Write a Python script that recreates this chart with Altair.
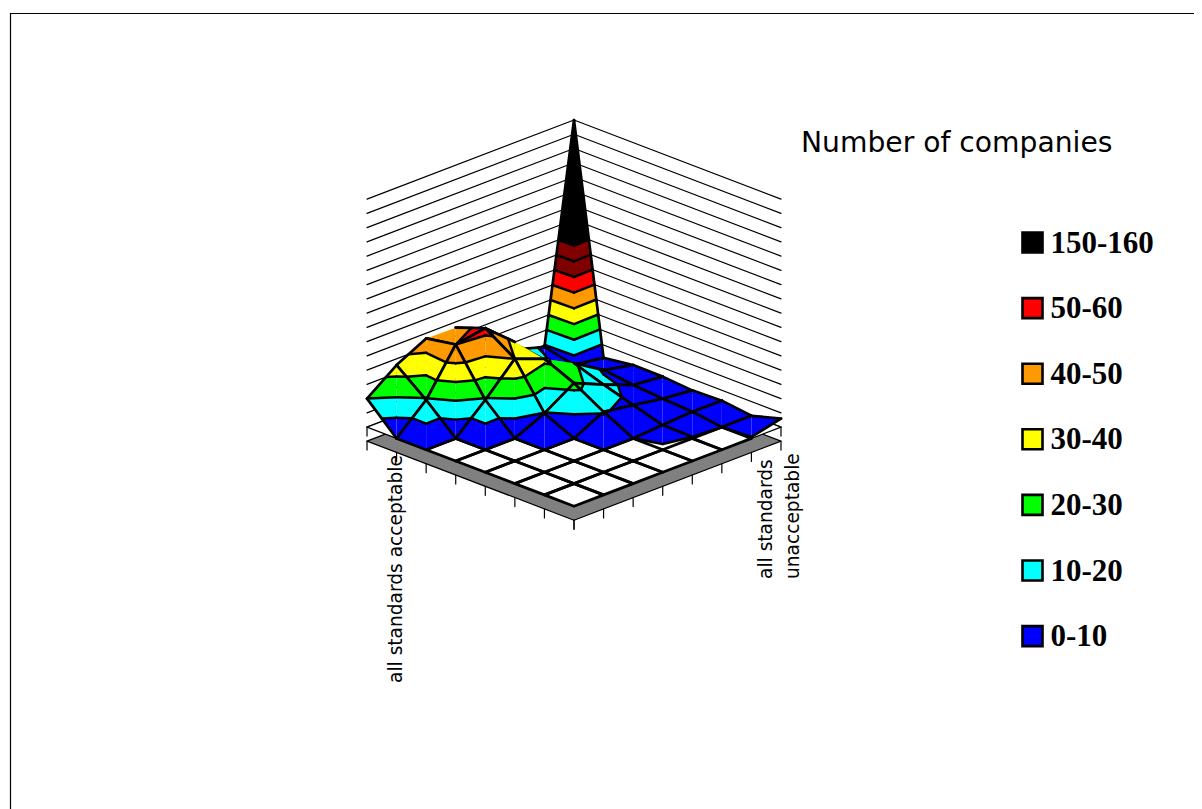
import altair as alt
import pandas as pd

# Surface heights (number of companies); row index runs from the back corner to the left corner,
# column index from the back corner to the right corner. None = no surface cell drawn.
Z0 = [160, 1, 3.9, 3.7, 2, 2.7, 0, 6]
Z1 = [8.6, 4, 8.3, 5.7, 4, 2.8, 0, 1]
Z2 = [15, 12, 21, 14, 7.5, 1.4, 1, None]
Z3 = [30, 36, 32, 22.9, 10.7, 0, 4, None]
Z4 = [46, 53.5, 40, 9.6, 0, 0, None, None]
Z5 = [46.4, 50, 19, 0, 0, None, None, None]
Z6 = [35.6, 19, 0, 0, None, None, None, None]
Z7 = [20, 0, 0, None, None, None, None, None]
Z = [Z0, Z1, Z2, Z3, Z4, Z5, Z6, Z7]

BAND_EDGES = [0, 10, 20, 30, 40, 50, 60, 70, 80, 170]
BAND_COLORS = ["#0000ff", "#00ffff", "#00ff00", "#ffff00", "#ff9900", "#ff0000",
               "#800000", "#800000", "#000000"]
WALL_LEVELS = [0, 10, 20, 30, 40, 50, 60, 70, 80, 90, 100, 110, 120, 130, 140, 150, 160]

LEGEND_LABELS = ["150-160", "50-60", "40-50", "30-40", "20-30", "10-20", "0-10"]
LEGEND_COLORS = ["#000000", "#ff0000", "#ff9900", "#ffff00", "#00ff00", "#00ffff", "#0000ff"]

# Mesh edges that the original leaves unstroked along the back of the hump
UNSTROKED = {((3, 1), (3, 2)), ((2, 1), (3, 1)), ((3, 0), (3, 1)), ((3, 0), (4, 0)),
             ((4, 0), (5, 0)), ((2, 1), (2, 2)), ((2, 2), (3, 2)), ((2, 0), (3, 0)), ((2, 0), (2, 1))}

# Oblique view of the (row, column, height) box, in page pixels
CX, CY, DX, DY, DZ = 574.0, 348.0, 29.57, 11.3, 1.425
PLATE_DROP = 14
TICK = 9


def proj(i, j, z=0.0):
    return (CX + (j - i) * DX, CY + (i + j) * DY - z * DZ)


rows = []
sid = [0]


def add(pts, fill="transparent", stroke="transparent", w=0):
    sid[0] += 1
    name = f"s{sid[0]:05d}"
    for k, (x, y) in enumerate(pts):
        rows.append(dict(id=name, seq=k, x=x, y=y, fill=fill, stroke=stroke, w=w))


def clip(poly, level, keep_above):
    out = []
    n = len(poly)
    for a in range(n):
        p, q = poly[a], poly[(a + 1) % n]
        pin = p[2] >= level if keep_above else p[2] <= level
        qin = q[2] >= level if keep_above else q[2] <= level
        if pin:
            out.append(p)
        if pin != qin:
            t = (level - p[2]) / (q[2] - p[2])
            out.append(tuple(p[m] + t * (q[m] - p[m]) for m in range(3)))
    return out


def contour(tri, level):
    pts = []
    for a in range(3):
        p, q = tri[a], tri[(a + 1) % 3]
        if (p[2] - level) * (q[2] - level) < 0:
            t = (level - p[2]) / (q[2] - p[2])
            pts.append(tuple(p[m] + t * (q[m] - p[m]) for m in range(3)))
    return pts[:2] if len(pts) >= 2 else None


# Walls
for lv in WALL_LEVELS:
    add([proj(7, 0, lv), proj(0, 0, lv), proj(0, 7, lv)], stroke="#000000", w=1.2)

# Grey floor plate, seen under the white plane
plate = [proj(7, 0), proj(7, 7), proj(0, 7), proj(0, 0)]
plate = [(x, y + PLATE_DROP) for x, y in plate]
add(plate + plate[:1], fill="#808080", stroke="#000000", w=1.2)
for k in range(8):
    for (x, y) in (proj(7, k), proj(k, 7)):
        add([(x, y + PLATE_DROP), (x, y + PLATE_DROP + TICK)], stroke="#000000", w=1.2)
for (x, y) in (proj(7, 0), proj(0, 7)):
    add([(x, y), (x, y + TICK)], stroke="#000000", w=1.2)
top = [proj(7, 0), proj(7, 7), proj(0, 7), proj(0, 0)]
add(top + top[:1], fill="#ffffff", stroke="#000000", w=1.2)

# White cells where there is no surface
for i in range(7):
    for j in range(7):
        if None in (Z[i][j], Z[i][j + 1], Z[i + 1][j], Z[i + 1][j + 1]):
            c = [proj(i, j), proj(i, j + 1), proj(i + 1, j + 1), proj(i + 1, j), proj(i, j)]
            add(c, stroke="#000000", w=2.8)

# Surface, back to front; each cell is split along its back-front diagonal
order = sorted(((i, j) for i in range(7) for j in range(7)), key=lambda c: c[0] + c[1])
for i, j in order:
    if None in (Z[i][j], Z[i][j + 1], Z[i + 1][j], Z[i + 1][j + 1]):
        continue
    a = (i, j, Z[i][j])
    b = (i, j + 1, Z[i][j + 1])
    c = (i + 1, j + 1, Z[i + 1][j + 1])
    d = (i + 1, j, Z[i + 1][j])
    tris = [[a, b, c], [a, c, d]]
    for tri in tris:
        for b_i, color in enumerate(BAND_COLORS):
            lo, hi = BAND_EDGES[b_i], BAND_EDGES[b_i + 1]
            poly = clip(clip(tri, lo, True), hi, False)
            if len(poly) >= 3:
                add([proj(*p) for p in poly] + [proj(*poly[0])], fill=color)
    for tri in tris:
        for lv in BAND_EDGES[1:-1]:
            seg = contour(tri, lv + 0.001)
            if seg:
                add([proj(*p) for p in seg], stroke="#000000", w=2.5)
    for p, q in ((a, b), (b, c), (d, c), (a, d)):
        if (p[:2], q[:2]) not in UNSTROKED:
            add([proj(*p), proj(*q)], stroke="#000000", w=2.7)

shapes = pd.DataFrame(rows)

SX = alt.Scale(domain=[8, 1194], nice=False, zero=False)
SY = alt.Scale(domain=[809, 8], nice=False, zero=False)
X = alt.X("x:Q", scale=SX, axis=None)
Y = alt.Y("y:Q", scale=SY, axis=None)

surface = alt.Chart(shapes).mark_line(strokeJoin="round", strokeCap="round", clip=False).encode(
    x=X, y=Y, order="seq:Q", detail="id:N",
    fill=alt.Fill("fill:N", scale=None),
    stroke=alt.Stroke("stroke:N", scale=None),
    strokeWidth=alt.StrokeWidth("w:Q", scale=None),
)

frame = alt.Chart(pd.DataFrame({"x": [10.5, 10.5, 1194], "y": [809, 13.5, 13.5], "s": [0, 1, 2]})).mark_line(
    color="#000000", strokeWidth=1.2
).encode(x=X, y=Y, order="s:Q")

legend_df = pd.DataFrame({
    "label": LEGEND_LABELS,
    "color": LEGEND_COLORS,
    "x": 1032.5,
    "tx": 1050.5,
    "y": [242.5 + k * 65.6 for k in range(len(LEGEND_LABELS))],
})
legend_df["ty"] = legend_df["y"] + 10
squares = alt.Chart(legend_df).mark_square(size=400, opacity=1, stroke="#000000", strokeWidth=2.6).encode(
    x=X, y=Y, fill=alt.Fill("color:N", scale=None)
)
legend_text = alt.Chart(legend_df).mark_text(
    font="Liberation Serif", fontWeight="bold", fontSize=31, align="left", baseline="alphabetic", color="#000000"
).encode(x=alt.X("tx:Q", scale=SX, axis=None), y=alt.Y("ty:Q", scale=SY, axis=None), text="label:N")

title = alt.Chart(pd.DataFrame({"x": [801], "y": [152], "t": ["Number of companies"]})).mark_text(
    font="DejaVu Sans", fontSize=28.2, align="left", baseline="alphabetic", color="#000000"
).encode(x=X, y=Y, text="t:N")

side = alt.Chart(pd.DataFrame({
    "x": [402, 772, 799],
    "y": [683, 579, 579],
    "t": ["all standards acceptable", "all standards", "unacceptable"],
})).mark_text(
    font="DejaVu Sans", fontSize=18.6, angle=270, align="left", baseline="alphabetic", color="#000000"
).encode(x=X, y=Y, text="t:N")

chart = alt.layer(surface, frame, squares, legend_text, title, side).properties(
    width=1186, height=801, padding=0, background="#ffffff",
    autosize=alt.AutoSizeParams(type="none"),
).configure_view(stroke=None)

chart.save("out.html", embed_options={"renderer": "svg", "actions": False})
